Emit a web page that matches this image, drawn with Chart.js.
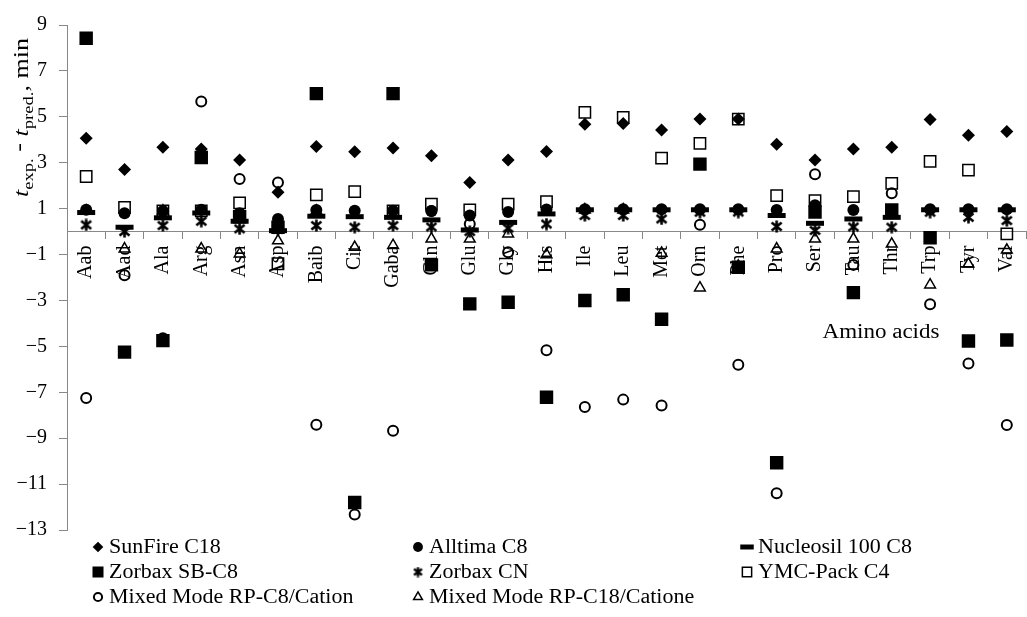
<!DOCTYPE html>
<html>
<head>
<meta charset="utf-8">
<script src="https://cdn.jsdelivr.net/npm/chart.js@4/dist/chart.umd.min.js"></script>
<style>
html,body{margin:0;padding:0;background:#fff;overflow:hidden;}
canvas{display:block;}
</style>
</head>
<body>
<canvas id="c" width="1040" height="617" style="width:1040px;height:617px"></canvas>
<script>
// ---- data ----
const categories = ['Aab','Aad','Ala','Arg','Asn','Asp','Baib','Cit','Gaba','Gln','Glu','Gly','His','Ile','Leu','Met','Orn','Phe','Pro','Ser','Tau','Thr','Trp','Tyr','Val'];
const seriesNames = ['SunFire C18','Alltima C8','Nucleosil 100 C8','Zorbax SB-C8','Zorbax CN','YMC-Pack C4','Mixed Mode RP-C8/Cation','Mixed Mode RP-C18/Catione'];
const sunFire   = [4.07, 2.7, 3.67, 3.6, 3.12, 1.71, 3.71, 3.48, 3.64, 3.3, 2.14, 3.12, 3.49, 4.68, 4.71, 4.43, 4.9, 4.9, 3.81, 3.12, 3.6, 3.67, 4.88, 4.2, 4.36];
const alltima   = [0.95, 0.8, 0.9, 0.95, 0.8, 0.55, 0.94, 0.91, 0.91, 0.9, 0.7, 0.85, 0.96, 0.97, 0.97, 0.97, 0.97, 0.97, 0.94, 1.15, 0.94, 0.9, 0.97, 0.97, 0.97];
const nucleosil = [0.83, 0.19, 0.6, 0.81, 0.45, 0.04, 0.67, 0.65, 0.62, 0.51, 0.07, 0.4, 0.77, 0.95, 0.95, 0.95, 0.95, 0.95, 0.7, 0.36, 0.55, 0.62, 0.95, 0.95, 0.95];
const zorbaxSB  = [8.42, -5.25, -4.75, 3.23, 0.65, 0.19, 6.01, -11.8, 6.01, -1.45, -3.15, -3.08, -7.22, -3.0, -2.75, -3.82, 2.94, -1.55, -10.07, 0.85, -2.66, 0.94, -0.27, -4.77, -4.72];
const zorbaxCN  = [0.29, 0.0, 0.26, 0.45, 0.12, 0.1, 0.26, 0.19, 0.26, 0.2, 0.0, 0.15, 0.33, 0.7, 0.7, 0.55, 0.84, 0.85, 0.22, 0.05, 0.2, 0.19, 0.84, 0.62, 0.48];
const ymcPack   = [2.4, 1.05, 0.9, 0.9, 1.25, -1.4, 1.6, 1.74, 0.9, 1.2, 0.95, 1.2, 1.3, 5.19, 4.97, 3.2, 3.84, 4.9, 1.57, 1.35, 1.52, 2.1, 3.06, 2.68, -0.1];
const mixedC8   = [-7.25, -1.9, -4.65, 5.67, 2.29, 2.14, -8.41, -12.32, -8.68, 0.9, 0.33, -0.9, -5.17, -7.64, -7.32, -7.58, 0.3, -5.8, -11.4, 2.5, -1.45, 1.67, -3.17, -5.75, -8.43];
const mixedC18  = [0.9, -0.75, 0.9, -0.75, -0.97, -0.4, 0.9, -0.68, -0.6, -0.32, -0.32, -0.1, -1.0, 0.95, 0.95, -0.94, -2.45, -1.5, -0.75, -0.32, -0.32, -0.54, -2.32, -1.41, -0.8];
const yMin = -13, yMax = 9, yStep = 2;

const seriesValues = [sunFire, alltima, nucleosil, zorbaxSB, zorbaxCN, ymcPack, mixedC8, mixedC18];

// ---- styles ----
const FONT = "'Liberation Serif', 'Times New Roman', serif";
function makeStar(size, lw){
  const c = document.createElement('canvas');
  c.width = size; c.height = size;
  const g = c.getContext('2d');
  g.strokeStyle = '#000'; g.lineWidth = lw;
  const m = 1.5, s = size - 1.5;
  g.beginPath();
  g.moveTo(m, m + 1); g.lineTo(s, s - 1);
  g.moveTo(s, m + 1); g.lineTo(m, s - 1);
  g.moveTo(size / 2, 0.5); g.lineTo(size / 2, size - 0.5);
  g.stroke();
  return c;
}
const star = makeStar(13, 2.6);
const starSmall = makeStar(11, 2.3);
const clear = 'rgba(0,0,0,0)';
const markerStyles = [
  {ps:'rectRot', r:6.5, bg:'#000', bw:0},
  {ps:'circle', r:6, bg:'#000', bw:0},
  {ps:'line', r:9, bg:'#000', bw:5},
  {ps:'rect', r:9.5, bg:'#000', bw:0},
  {ps:star, r:6.5, bg:'#000', bw:0, legendPs:starSmall},
  {ps:'rect', r:8, bg:clear, bw:1.5},
  {ps:'circle', r:5, bg:clear, bw:2},
  {ps:'triangle', r:6.2, bg:clear, bw:1.5}
];

const datasets = seriesValues.map((vals, i) => {
  const st = markerStyles[i];
  return {
    label: seriesNames[i],
    data: vals,
    showLine: false,
    pointStyle: st.ps,
    pointRadius: st.r,
    pointHoverRadius: st.r,
    pointBackgroundColor: st.bg,
    pointBorderColor: '#000',
    pointBorderWidth: st.bw,
    pointHoverBorderWidth: st.bw,
    order: seriesValues.length - i
  };
});

function fmt(v){ return v < 0 ? '\u2212' + Math.abs(v) : String(v); }

const annotations = {
  id: 'annotations',
  afterDraw(chart){
    const ctx = chart.ctx;
    // y-axis title: t_exp. - t_pred., min
    ctx.save();
    ctx.fillStyle = '#000';
    const parts = [
      {t:'t', f:'italic 21px ' + FONT, dy:0},
      {t:'exp.', f:'15px ' + FONT, dy:5},
      {t:' - ', f:'21px ' + FONT, dy:-3},
      {t:'t', f:'italic 21px ' + FONT, dy:0},
      {t:'pred.', f:'15px ' + FONT, dy:5},
      {t:', min', f:'21px ' + FONT, dy:0}
    ];
    let total = 0;
    parts.forEach(p => { ctx.font = p.f; p.w = ctx.measureText(p.t).width; total += p.w; });
    const k = 159 / total;
    ctx.translate(28, 197);
    ctx.rotate(-Math.PI / 2);
    ctx.scale(k, 1);
    ctx.textBaseline = 'alphabetic';
    ctx.textAlign = 'left';
    let x = 0;
    parts.forEach(p => { ctx.font = p.f; ctx.fillText(p.t, x, p.dy); x += p.w; });
    ctx.restore();

    // x-axis title
    ctx.save();
    ctx.fillStyle = '#000';
    ctx.font = '20px ' + FONT;
    ctx.textAlign = 'center';
    ctx.textBaseline = 'middle';
    ctx.translate(881, 333);
    ctx.scale(1.15, 1);
    ctx.fillText('Amino acids', 0, 0);
    ctx.restore();

    // legend (3 columns)
    const colX = [98, 418, 747];
    const rowY = [547, 572, 597];
    chart.data.datasets.forEach((ds, i) => {
      const st = markerStyles[i];
      const mx = colX[i % 3], my = rowY[Math.floor(i / 3)];
      ctx.save();
      ctx.fillStyle = st.bg;
      ctx.strokeStyle = '#000';
      ctx.lineWidth = st.bw;
      const opts = {pointStyle: st.legendPs || st.ps, radius: st.r * 0.82, borderWidth: st.bw, rotation: 0};
      if (st.ps === 'line') opts.radius = st.r * 0.75;
      if (Chart.helpers && Chart.helpers.drawPoint) {
        Chart.helpers.drawPoint(ctx, opts, mx, my);
      }
      ctx.restore();
      ctx.save();
      ctx.fillStyle = '#000';
      ctx.font = '20px ' + FONT;
      ctx.textAlign = 'left';
      ctx.textBaseline = 'middle';
      ctx.translate(mx + 11, my + 1);
      ctx.scale(1.1, 1);
      ctx.fillText(ds.label, 0, 0);
      ctx.restore();
    });
  }
};

new Chart(document.getElementById('c'), {
  type: 'line',
  data: { labels: categories, datasets: datasets },
  options: {
    responsive: false,
    animation: false,
    devicePixelRatio: 1,
    events: [],
    layout: { padding: { left: 0, top: 25, right: 4, bottom: 87 } },
    plugins: { legend: { display: false }, tooltip: { enabled: false }, title: { display: false } },
    scales: {
      x: {
        type: 'category',
        position: { y: 0 },
        offset: true,
        grid: { display: true, drawOnChartArea: false, drawTicks: true, tickLength: 7, offset: true, color: '#888', lineWidth: 1 },
        border: { display: true, color: '#888', width: 1 },
        ticks: { autoSkip: false, minRotation: 90, maxRotation: 90, padding: 7, color: '#000', font: { family: FONT, size: 20 } }
      },
      y: {
        type: 'linear',
        min: yMin,
        max: yMax,
        afterFit: (s) => { s.width = 67; },
        grid: { display: true, drawOnChartArea: false, drawTicks: true, tickLength: 8, color: '#888', lineWidth: 1 },
        border: { display: true, color: '#888', width: 1 },
        ticks: { stepSize: yStep, padding: 12, color: '#000', font: { family: FONT, size: 20 }, callback: (v) => fmt(v) }
      }
    }
  },
  plugins: [annotations]
});
</script>
</body>
</html>
